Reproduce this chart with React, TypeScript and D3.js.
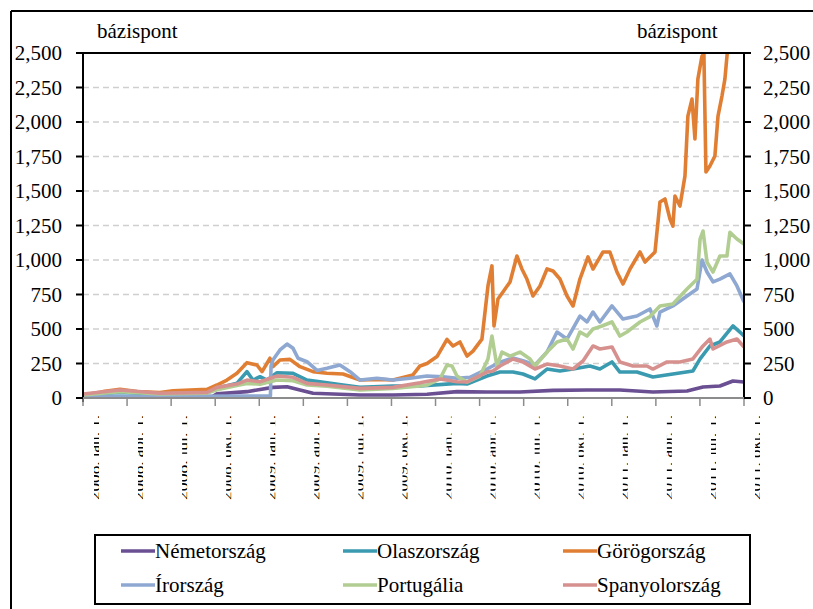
import React from "react";
import * as d3 from "d3";

// month offset from 2008 jan. 1 , value in basis points
const nemet: [number, number][] = [
  [0, 8], [4.56, 8], [7.96, 10], [8.85, 12], [9.12, 30], [11.16, 46], [12.93, 77], [13.89, 82],
  [14.77, 58], [15.66, 34], [18.86, 22], [21.1, 22], [23.42, 27], [25.46, 46], [27.5, 43],
  [29.75, 43], [32.0, 55], [34.31, 58], [36.55, 58], [38.8, 43], [41.12, 51], [42.21, 80],
  [43.36, 87], [44.25, 123], [45, 116],
];
const olasz: [number, number][] = [
  [0, 25], [2.52, 40], [5.24, 30], [8.44, 40], [9.53, 82], [10.48, 106], [11.16, 191], [11.57, 130],
  [12.05, 154], [12.53, 130], [13.21, 183], [14.3, 179], [15.25, 130], [16.13, 118], [17.7, 94],
  [18.86, 77], [21.1, 87], [22.94, 87], [25.46, 106], [26.14, 101], [27.5, 159], [28.39, 188],
  [29.27, 188], [29.95, 174], [30.77, 138], [31.59, 210], [32.47, 196], [33.36, 210], [34.51, 232],
  [35.19, 210], [36.01, 261], [36.55, 188], [37.71, 188], [38.8, 152], [40.16, 174], [41.52, 196],
  [42.01, 283], [42.68, 377], [43.36, 406], [44.25, 522], [44.72, 478], [45, 449],
];
const gorog: [number, number][] = [
  [0, 22], [1.36, 46], [2.52, 63], [3.68, 46], [5.24, 39], [6.13, 53], [8.44, 63], [9.12, 94],
  [9.8, 130], [10.48, 179], [11.16, 256], [11.84, 239], [12.19, 191], [12.73, 288], [12.93, 227],
  [13.41, 275], [14.09, 280], [14.77, 227], [15.66, 191], [16.61, 179], [17.7, 174], [18.86, 130],
  [20.22, 135], [21.1, 130], [22.46, 167], [22.94, 232], [23.42, 250], [24.1, 300], [24.78, 425],
  [25.19, 377], [25.66, 406], [26.14, 304], [26.55, 340], [27.16, 427], [27.57, 812], [27.84, 957],
  [27.98, 522], [28.25, 717], [28.59, 768], [29.07, 841], [29.54, 1029], [29.88, 935], [30.22, 862],
  [30.63, 739], [31.11, 812], [31.59, 935], [32.0, 920], [32.47, 862], [32.95, 739], [33.36, 667],
  [33.83, 862], [34.38, 1022], [34.72, 935], [35.4, 1058], [35.87, 1058], [36.35, 913], [36.76, 826],
  [37.24, 935], [37.92, 1058], [38.26, 985], [38.94, 1058], [39.28, 1420], [39.62, 1442],
  [39.96, 1297], [40.16, 1246], [40.3, 1464], [40.64, 1391], [40.98, 1608], [41.18, 2043],
  [41.46, 2166], [41.66, 1877], [41.86, 2311], [42.14, 2478], [42.27, 2495], [42.41, 1638],
  [42.68, 1681], [43.02, 1754], [43.23, 2043], [43.5, 2188], [43.7, 2311], [43.91, 2560],
  [44.38, 2700], [45, 2800],
];
const ir: [number, number][] = [
  [0, 12], [4.56, 10], [10.69, 14], [12.76, 15], [12.8, 230], [12.93, 275], [13.41, 348], [13.89, 391],
  [14.3, 360], [14.64, 288], [15.25, 263], [15.93, 200], [16.61, 215], [17.49, 239], [18.18, 191],
  [18.86, 130], [20.01, 143], [21.1, 130], [22.26, 143], [23.42, 159], [24.51, 154], [25.46, 143],
  [26.34, 150], [27.5, 210], [28.39, 260], [29.27, 290], [29.95, 270], [30.77, 240], [31.59, 333],
  [32.27, 478], [32.95, 427], [33.83, 594], [34.31, 551], [34.72, 623], [35.19, 551], [36.01, 667],
  [36.76, 572], [37.71, 594], [38.6, 645], [39.07, 522], [39.28, 623], [40.16, 667], [41.12, 739],
  [41.8, 790], [42.14, 1000], [42.48, 913], [42.89, 841], [43.36, 862], [44.04, 900], [44.52, 812],
  [45, 696],
];
const portugal: [number, number][] = [
  [0, 22], [2.52, 45], [5.24, 30], [8.44, 35], [9.12, 60], [10.48, 90], [11.16, 106], [12.05, 100],
  [13.21, 130], [14.3, 125], [15.25, 94], [16.61, 85], [18.86, 58], [21.1, 70], [22.94, 87],
  [23.42, 94], [24.3, 138], [24.78, 239], [25.12, 232], [25.46, 159], [26.14, 116], [27.02, 159],
  [27.57, 283], [27.84, 449], [28.18, 232], [28.52, 333], [29.07, 304], [29.75, 333], [30.43, 283],
  [30.77, 232], [31.59, 333], [32.27, 406], [32.95, 427], [33.36, 355], [33.83, 478], [34.31, 449],
  [34.72, 500], [35.33, 522], [36.01, 551], [36.55, 449], [37.03, 478], [37.92, 551], [38.6, 590],
  [39.28, 667], [40.16, 681], [41.12, 790], [41.8, 860], [42.01, 1152], [42.21, 1210], [42.48, 985],
  [42.89, 913], [43.36, 1029], [43.84, 1029], [44.04, 1200], [44.52, 1152], [45, 1116],
];
const spanyol: [number, number][] = [
  [0, 29], [2.52, 58], [5.24, 34], [8.44, 41], [9.12, 77], [10.48, 101], [11.16, 130], [12.05, 118],
  [13.21, 159], [14.3, 150], [15.25, 106], [16.61, 94], [18.86, 70], [21.1, 77], [22.94, 110],
  [24.3, 138], [25.46, 118], [26.14, 116], [27.5, 188], [27.91, 196], [28.39, 232], [29.27, 283],
  [29.95, 261], [30.77, 210], [31.59, 246], [32.47, 232], [33.36, 210], [34.04, 268], [34.72, 377],
  [35.19, 355], [36.01, 370], [36.55, 261], [37.44, 232], [38.39, 232], [38.8, 210], [39.76, 261],
  [40.64, 261], [41.52, 283], [42.21, 377], [42.68, 427], [42.89, 355], [43.84, 406], [44.52, 427],
  [45, 370],
];

const seriesNames = ["Németország", "Olaszország", "Görögország", "Írország", "Portugália", "Spanyolország"];
const seriesData = [nemet, olasz, gorog, ir, portugal, spanyol];
const seriesColors = ["#6a4f92", "#3a9ab0", "#e07f33", "#8ea8d2", "#b1cd92", "#d6918f"];

const yTicks = [0, 250, 500, 750, 1000, 1250, 1500, 1750, 2000, 2250, 2500];
const tickYears = ["2008", "2009", "2010", "2011"];
const tickMonths = ["jan.", "ápr.", "júl.", "okt."];
const unitLabel = "bázispont";

const FONT = "Liberation Serif, DejaVu Serif, serif";

export default function App() {
  const left = 83, right = 744, top = 53, bottom = 398;
  const x = d3.scaleLinear().domain([0, 45]).range([left, right]);
  const y = d3.scaleLinear().domain([0, 2500]).range([bottom, top]);
  const line = d3.line<[number, number]>().x((d) => x(d[0])).y((d) => y(d[1]));

  const xTicks: { m: number; label: string }[] = [];
  tickYears.forEach((yr, yi) =>
    tickMonths.forEach((mo, mi) => {
      const m = yi * 12 + mi * 3;
      if (m <= 45) xTicks.push({ m, label: `${yr}. ${mo} 1.` });
    })
  );

  const legendCols = [121, 343, 563];
  const legendRows = [551, 585];
  const ts: React.CSSProperties = { fontFamily: FONT };

  return (
    <svg width={813} height={609} style={{ position: "absolute", left: 0, top: 0, background: "#fff", fontFamily: FONT }}>
      <defs>
        <clipPath id="plotclip">
          <rect x={left} y={top} width={right - left} height={bottom - top + 2} />
        </clipPath>
        {xTicks.map((t, i) => (
          <clipPath id={`lc${i}`} key={i}>
            <rect x={x(t.m) + 11} y={405} width={5} height={100} />
          </clipPath>
        ))}
      </defs>
      {/* frame */}
      <line x1={11} y1={11} x2={813} y2={11} stroke="#000" strokeWidth={2} />
      <line x1={11} y1={11} x2={11} y2={609} stroke="#000" strokeWidth={2} />

      {/* gridlines */}
      {yTicks.filter((v) => v > 0 && v < 2500).map((v) => (
        <line key={v} x1={left} x2={right} y1={y(v)} y2={y(v)} stroke="#cfcfcf" strokeWidth={1.5}
          strokeDasharray="6,4" />
      ))}

      {/* series */}
      <g clipPath="url(#plotclip)">
        {seriesData.map((d, i) => (
          <path key={i} d={line(d) || ""} fill="none" stroke={seriesColors[i]} strokeWidth={3.6}
            strokeLinejoin="round" />
        ))}
      </g>

      {/* axes */}
      <line x1={76} x2={right + 7} y1={top} y2={top} stroke="#000" strokeWidth={2} />
      <line x1={left} x2={left} y1={top} y2={bottom + 4} stroke="#000" strokeWidth={2} />
      <line x1={right} x2={right} y1={top} y2={bottom} stroke="#000" strokeWidth={2} />
      <line x1={left} x2={right + 1} y1={bottom} y2={bottom} stroke="#8c8c8c" strokeWidth={2} />
      {xTicks.map((t, i) => (
        <line key={i} x1={x(t.m)} x2={x(t.m)} y1={bottom} y2={bottom + 8} stroke="#8c8c8c" strokeWidth={1.5} />
      ))}
      {yTicks.map((v) => (
        <g key={v}>
          <line x1={76} x2={left} y1={y(v)} y2={y(v)} stroke="#000" strokeWidth={2} />
          <line x1={right} x2={right + 7} y1={y(v)} y2={y(v)} stroke="#000" strokeWidth={2} />
          <text x={62} y={y(v)} dy="0.35em" textAnchor="end" fontSize={21} style={ts}>{d3.format(",")(v)}</text>
          <text x={763} y={y(v)} dy="0.35em" textAnchor="start" fontSize={21} style={ts}>{d3.format(",")(v)}</text>
        </g>
      ))}
      <text x={97} y={38} fontSize={21} style={ts}>{unitLabel}</text>
      <text x={637} y={38} fontSize={21} style={ts}>{unitLabel}</text>

      {/* x labels: rotated, clipped */}
      {xTicks.map((t, i) => (
        <g key={i} clipPath={`url(#lc${i})`}>
          <text transform={`translate(${x(t.m) + 17},500) rotate(-90)`} fontSize={16} style={ts}
            textLength={85} lengthAdjust="spacingAndGlyphs">{t.label}</text>
        </g>
      ))}

      {/* legend */}
      <rect x={95} y={535} width={655} height={69} fill="#fff" stroke="#000" strokeWidth={2} />
      {seriesNames.map((n, i) => {
        const cx = legendCols[i % 3];
        const cy = legendRows[Math.floor(i / 3)];
        return (
          <g key={n}>
            <line x1={cx} x2={cx + 34} y1={cy} y2={cy} stroke={seriesColors[i]} strokeWidth={3.5} />
            <text x={cx + 34} y={cy} dy="0.35em" fontSize={21} style={ts}>{n}</text>
          </g>
        );
      })}
    </svg>
  );
}
